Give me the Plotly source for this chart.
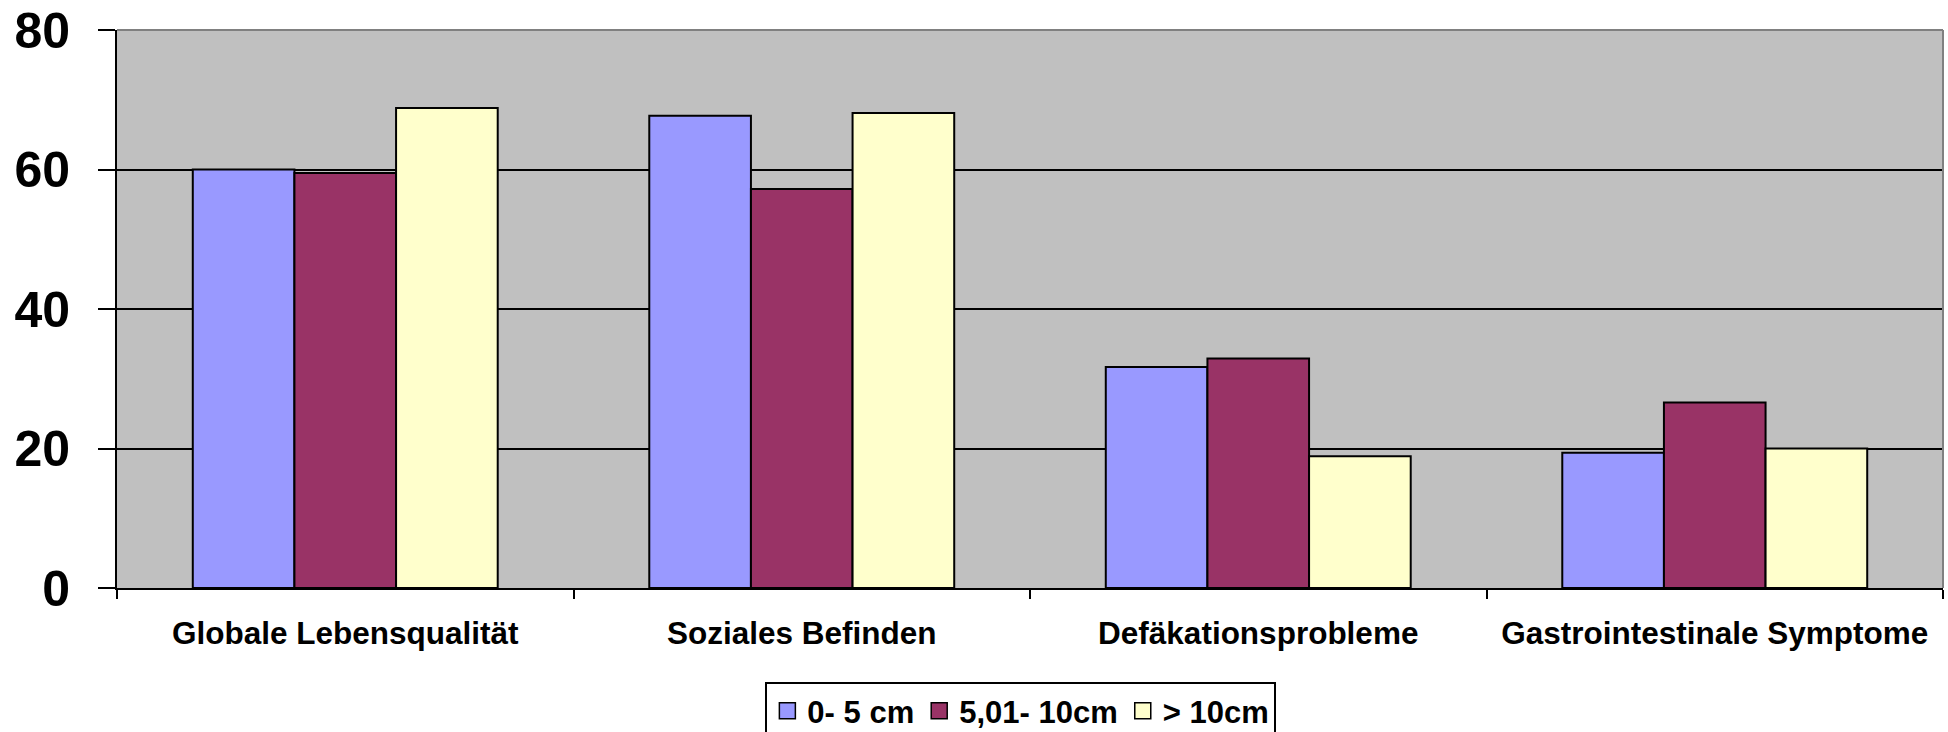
import plotly.graph_objects as go

categories = ["Globale Lebensqualität", "Soziales Befinden", "Defäkationsprobleme", "Gastrointestinale Symptome"]
series_names = ["0- 5 cm", "5,01- 10cm", "> 10cm"]
vals_0_5 = [60.0, 67.7, 31.7, 19.4]
vals_5_10 = [59.5, 57.2, 32.9, 26.6]
vals_gt10 = [68.8, 68.1, 18.9, 20.0]
y_ticks = [0, 20, 40, 60, 80]

colors = ["#9999FF", "#993366", "#FFFFCC"]
FONT = "Liberation Sans, Arial, sans-serif"

fig = go.Figure()
for name, vals, col in zip(series_names, [vals_0_5, vals_5_10, vals_gt10], colors):
    fig.add_trace(go.Bar(
        x=categories, y=vals, name=name, showlegend=False,
        marker=dict(color=col, line=dict(color="black", width=2)),
    ))
# legend entries with larger square swatches
for name, col in zip(series_names, colors):
    fig.add_trace(go.Scatter(
        x=[None], y=[None], mode="markers", name=name,
        marker=dict(symbol="square", size=16, color=col, line=dict(color="black", width=1.5)),
    ))

fig.update_layout(
    width=1948, height=732,
    margin=dict(l=117, r=5, t=30, b=144),
    paper_bgcolor="white",
    plot_bgcolor="#C0C0C0",
    barmode="group",
    bargap=0.332,
    bargroupgap=0,
    showlegend=True,
    legend=dict(
        orientation="h",
        x=0.495, xanchor="center",
        yref="container", y=0.0683, yanchor="top",
        bordercolor="black", borderwidth=2,
        bgcolor="white",
        font=dict(family=FONT, size=31, color="black", weight="bold"),
        traceorder="normal",
        itemwidth=30,
    ),
    xaxis=dict(
        automargin=False,
        showline=True, linecolor="black", linewidth=2,
        ticks="outside", ticklen=9, tickwidth=2, tickcolor="black",
        tickson="boundaries",
        showgrid=False,
        tickfont=dict(family=FONT, size=31.5, color="black", weight="bold"),
        ticklabelstandoff=16,
    ),
    yaxis=dict(
        automargin=False,
        range=[0, 80], tickvals=y_ticks,
        showline=True, linecolor="black", linewidth=2,
        ticks="outside", ticklen=17, tickwidth=2, tickcolor="black",
        showgrid=True, gridcolor="black", gridwidth=2,
        zeroline=False,
        tickfont=dict(family=FONT, size=50, color="black", weight="bold"),
        ticklabelstandoff=18,
        ticklabeloverflow="allow",
    ),
    shapes=[
        dict(type="line", xref="paper", yref="paper", x0=0, x1=1, y0=1, y1=1,
             line=dict(color="#808080", width=2)),
        dict(type="line", xref="paper", yref="paper", x0=1, x1=1, y0=0, y1=1,
             line=dict(color="#808080", width=2)),
    ],
)

fig.write_html("out.html", config={"displayModeBar": False},
               post_script="document.body.style.margin='0';")
